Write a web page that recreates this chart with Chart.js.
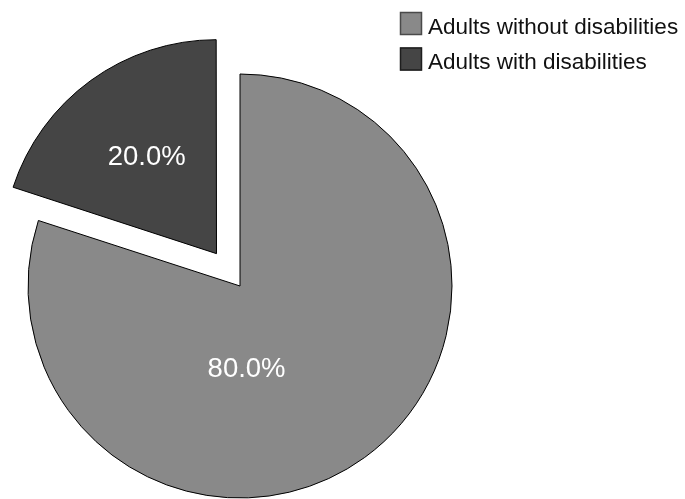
<!DOCTYPE html>
<html>
<head>
<meta charset="utf-8">
<script src="https://cdn.jsdelivr.net/npm/chart.js@4.4.0/dist/chart.umd.min.js"></script>
<style>
  html, body { margin: 0; padding: 0; background: #ffffff; }
  #wrap { position: relative; width: 685px; height: 499px; }
</style>
</head>
<body>
<div id="wrap"><canvas id="c" width="685" height="499"></canvas></div>
<script>
// ---- data ----
const categories = ["Adults without disabilities", "Adults with disabilities"];
const percentValues = [80.0, 20.0];
const valueLabels = ["80.0%", "20.0%"];

// ---- style ----
const sliceColors = ["#898989", "#454545"];
const legendBorderColors = ["#4a4a4a", "#1e1e1e"];
const sliceShift = [0, 40];            // pixels the slice is pulled out
const labelAngleDeg = [85.5, null];    // null -> slice mid-angle
const labelRadiusFrac = [0.395, 0.56];

const labelPlugin = {
  id: 'sliceLabels',
  afterDatasetsDraw(chart) {
    const ctx = chart.ctx;
    const meta = chart.getDatasetMeta(0);
    ctx.save();
    ctx.fillStyle = '#ffffff';
    ctx.font = '27.5px "Liberation Sans", Arial, sans-serif';
    ctx.textAlign = 'center';
    ctx.textBaseline = 'middle';
    meta.data.forEach((arc, i) => {
      const p = arc.getProps(['x', 'y', 'startAngle', 'endAngle', 'outerRadius'], true);
      const mid = (p.startAngle + p.endAngle) / 2;
      const off = sliceShift[i];
      const cx = p.x + Math.cos(mid) * off;
      const cy = p.y + Math.sin(mid) * off;
      const ang = labelAngleDeg[i] === null ? mid : labelAngleDeg[i] * Math.PI / 180;
      const r = p.outerRadius * labelRadiusFrac[i];
      ctx.fillText(valueLabels[i], cx + Math.cos(ang) * r, cy + Math.sin(ang) * r);
    });
    ctx.restore();
  }
};

const legendPlugin = {
  id: 'customLegend',
  afterDraw(chart) {
    const ctx = chart.ctx;
    const labels = chart.data.labels;
    const colors = chart.data.datasets[0].backgroundColor;
    ctx.save();
    ctx.font = '22.5px "Liberation Sans", Arial, sans-serif';
    ctx.textAlign = 'left';
    ctx.textBaseline = 'alphabetic';
    labels.forEach((lab, i) => {
      const y0 = 12 + i * 35.5;
      ctx.fillStyle = colors[i];
      ctx.fillRect(400, y0, 22, 23);
      ctx.strokeStyle = legendBorderColors[i];
      ctx.lineWidth = 1.5;
      ctx.strokeRect(400.5, y0 + 0.5, 21, 22);
      ctx.fillStyle = '#111111';
      ctx.fillText(lab, 428, y0 + 21.5);
    });
    ctx.restore();
  }
};

new Chart(document.getElementById('c'), {
  type: 'pie',
  data: {
    labels: categories,
    datasets: [{
      data: percentValues,
      backgroundColor: sliceColors,
      borderColor: '#000000',
      borderWidth: 1,
      // Chart.js translates an arc by offset/4
      offset: sliceShift.map(v => v * 4),
      hoverOffset: 0
    }]
  },
  options: {
    responsive: false,
    animation: false,
    radius: 212,
    layout: { padding: { left: 0, right: 205, top: 73, bottom: 0 } },
    plugins: {
      legend: { display: false },
      tooltip: { enabled: false }
    }
  },
  plugins: [labelPlugin, legendPlugin]
});
</script>
</body>
</html>
